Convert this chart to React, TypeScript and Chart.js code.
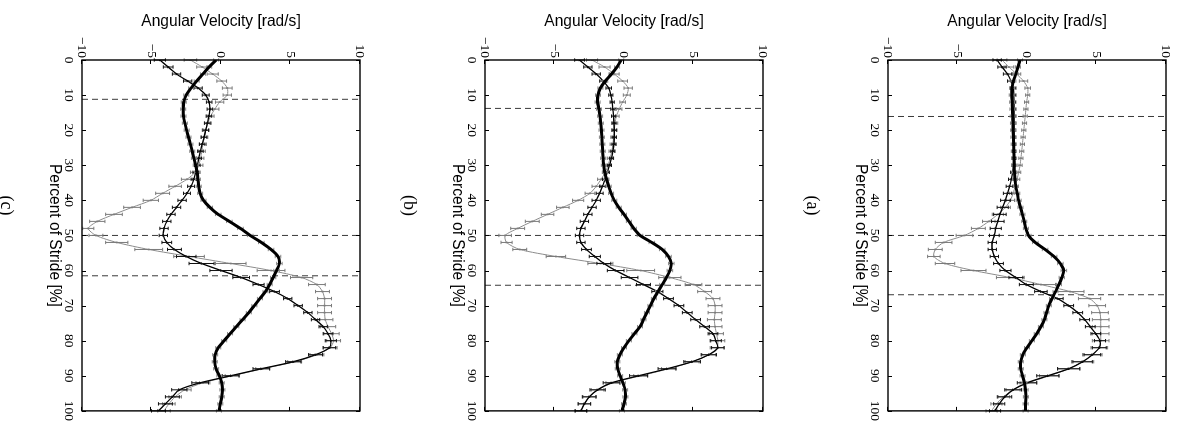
import React, { useEffect, useRef } from "react";
import { Chart, registerables } from "chart.js";

Chart.register(...registerables);

// Percent of stride (x of the original, un-rotated figure)
const percent = [
  0, 2, 4, 6, 8, 10, 12, 14, 16, 18, 20, 22, 24, 26, 28, 30, 32, 34, 36, 38,
  40, 42, 44, 46, 48, 50, 52, 54, 56, 58, 60, 62, 64, 66, 68, 70, 72, 74, 76, 78,
  80, 82, 84, 86, 88, 90, 92, 94, 96, 98, 100,
];
const strideTicks = [0, 10, 20, 30, 40, 50, 60, 70, 80, 90, 100];
const velocityTicks = [-10, -5, 0, 5, 10];

// ---------- Panel (a) ----------
const aThick = [
  -0.5, -0.65, -0.8, -0.98, -1.08, -1.1, -1.07, -1.05, -1.03, -1.01,
  -1.0, -0.98, -0.96, -0.95, -0.93, -0.92, -0.9, -0.86, -0.8, -0.7,
  -0.6, -0.47, -0.33, -0.2, -0.08, 0.1, 0.6, 1.3, 1.95, 2.4,
  2.65, 2.5, 2.3, 2.05, 1.8, 1.57, 1.4, 1.25, 1.0, 0.7,
  0.35, 0.0, -0.3, -0.45, -0.45, -0.32, -0.18, -0.1, -0.08, -0.1,
  -0.1,
];
const aThickErr = [
  0.18, 0.18, 0.18, 0.18, 0.18, 0.18, 0.18, 0.18, 0.18, 0.18,
  0.18, 0.18, 0.18, 0.18, 0.18, 0.18, 0.18, 0.18, 0.18, 0.18,
  0.18, 0.18, 0.18, 0.18, 0.18, 0.19, 0.2, 0.2, 0.2, 0.2,
  0.2, 0.19, 0.18, 0.18, 0.18, 0.18, 0.18, 0.18, 0.18, 0.18,
  0.18, 0.18, 0.18, 0.18, 0.18, 0.18, 0.18, 0.18, 0.18, 0.18,
  0.18,
];
const aThin = [
  -2.15, -1.8, -1.4, -1.15, -1.0, -0.95, -0.93, -0.92, -0.92, -0.92,
  -0.93, -0.93, -0.93, -0.94, -0.95, -0.97, -1.03, -1.13, -1.25, -1.4,
  -1.55, -1.75, -1.95, -2.1, -2.25, -2.35, -2.5, -2.5, -2.35, -2.05,
  -1.55, -0.8, -0.05, 1.0, 2.2, 3.0, 3.65, 4.15, 4.55, 4.95,
  5.25, 5.2, 4.7, 4.0, 3.0, 1.5, 0.0, -1.0, -1.6, -2.0,
  -2.3,
];
const aThinErr = [
  0.3, 0.3, 0.3, 0.25, 0.2, 0.15, 0.12, 0.12, 0.12, 0.12,
  0.12, 0.12, 0.12, 0.12, 0.12, 0.12, 0.15, 0.2, 0.25, 0.3,
  0.35, 0.4, 0.45, 0.45, 0.4, 0.35, 0.3, 0.3, 0.3, 0.35,
  0.4, 0.5, 0.5, 0.45, 0.4, 0.35, 0.35, 0.35, 0.35, 0.35,
  0.4, 0.5, 0.6, 0.7, 0.8, 0.8, 0.7, 0.6, 0.5, 0.4,
  0.4,
];
const aGray = [
  -1.8, -1.3, -0.75, -0.25, 0.05, 0.05, -0.03, -0.08, -0.13, -0.18,
  -0.23, -0.28, -0.33, -0.38, -0.44, -0.5, -0.6, -0.72, -0.85, -1.0,
  -1.2, -1.55, -2.1, -2.75, -3.5, -4.5, -6.0, -6.6, -6.7, -5.9,
  -3.85, -1.2, 1.0, 3.1, 4.5, 5.05, 5.25, 5.3, 5.3, 5.3,
  5.3, 5.2, 4.7, 4.0, 3.0, 1.6, 0.1, -1.0, -1.7, -2.2,
  -2.55,
];
const aGrayErr = [
  0.35, 0.35, 0.3, 0.3, 0.2, 0.15, 0.15, 0.15, 0.15, 0.15,
  0.15, 0.15, 0.15, 0.15, 0.15, 0.15, 0.15, 0.2, 0.2, 0.25,
  0.3, 0.35, 0.4, 0.45, 0.5, 0.6, 0.6, 0.5, 0.45, 0.7,
  0.9, 1.0, 1.05, 1.0, 0.8, 0.6, 0.6, 0.6, 0.6, 0.6,
  0.6, 0.6, 0.7, 0.8, 0.8, 0.7, 0.6, 0.5, 0.45, 0.4,
  0.4,
];
const aEvents = [16.1, 50, 66.9];

// ---------- Panel (b) ----------
const bThick = [
  -0.2, -0.5, -0.9, -1.35, -1.7, -1.87, -1.9, -1.8, -1.72, -1.67,
  -1.62, -1.59, -1.56, -1.53, -1.5, -1.45, -1.38, -1.26, -1.1, -0.93,
  -0.7, -0.38, 0.0, 0.35, 0.7, 1.15, 2.0, 2.75, 3.2, 3.4,
  3.3, 3.05, 2.75, 2.45, 2.15, 1.9, 1.65, 1.4, 1.15, 0.75,
  0.35, 0.0, -0.3, -0.48, -0.45, -0.28, -0.08, 0.08, 0.1, 0.0,
  -0.15,
];
const bThickErr = [
  0.18, 0.18, 0.18, 0.18, 0.18, 0.18, 0.18, 0.18, 0.18, 0.18,
  0.18, 0.18, 0.18, 0.18, 0.18, 0.18, 0.18, 0.18, 0.18, 0.18,
  0.18, 0.18, 0.18, 0.18, 0.19, 0.2, 0.2, 0.2, 0.2, 0.2,
  0.2, 0.19, 0.18, 0.18, 0.18, 0.18, 0.18, 0.18, 0.18, 0.18,
  0.18, 0.18, 0.18, 0.18, 0.18, 0.18, 0.18, 0.18, 0.18, 0.18,
  0.18,
];
const bThin = [
  -3.2, -2.6, -2.0, -1.5, -1.1, -0.95, -0.85, -0.8, -0.75, -0.72,
  -0.7, -0.7, -0.72, -0.8, -0.9, -1.05, -1.2, -1.35, -1.55, -1.75,
  -2.0, -2.3, -2.6, -2.85, -3.1, -3.2, -3.1, -2.7, -2.1, -1.45,
  -0.6, 0.4, 1.4, 2.4, 3.2, 3.95, 4.55, 5.15, 5.8, 6.4,
  6.6, 6.75, 6.1, 4.9, 3.1, 1.05, -0.9, -1.9, -2.5, -2.85,
  -3.1,
];
const bThinErr = [
  0.35, 0.3, 0.3, 0.25, 0.2, 0.15, 0.15, 0.15, 0.15, 0.15,
  0.15, 0.15, 0.15, 0.15, 0.15, 0.15, 0.15, 0.2, 0.2, 0.25,
  0.3, 0.3, 0.3, 0.3, 0.3, 0.3, 0.3, 0.35, 0.4, 0.5,
  0.6, 0.6, 0.5, 0.4, 0.35, 0.35, 0.35, 0.35, 0.35, 0.35,
  0.4, 0.45, 0.55, 0.6, 0.65, 0.65, 0.6, 0.55, 0.5, 0.45,
  0.4,
];
const bGray = [
  -2.3, -1.4, -0.7, -0.1, 0.3, 0.2, -0.1, -0.35, -0.55, -0.65,
  -0.7, -0.75, -0.8, -0.88, -1.0, -1.15, -1.35, -1.65, -2.0, -2.45,
  -3.3, -4.4, -5.5, -6.6, -7.65, -8.55, -8.45, -7.5, -4.9, -1.7,
  1.2, 3.3, 5.0, 5.8, 6.4, 6.55, 6.55, 6.5, 6.55, 6.65,
  6.75, 6.7, 6.1, 4.9, 3.2, 1.2, -0.8, -1.9, -2.5, -2.85,
  -3.1,
];
const bGrayErr = [
  0.4, 0.4, 0.35, 0.35, 0.3, 0.25, 0.2, 0.2, 0.2, 0.2,
  0.2, 0.2, 0.2, 0.2, 0.2, 0.2, 0.2, 0.25, 0.3, 0.35,
  0.4, 0.45, 0.45, 0.5, 0.5, 0.45, 0.4, 0.5, 0.7, 0.9,
  1.0, 0.8, 0.6, 0.5, 0.5, 0.5, 0.5, 0.5, 0.5, 0.5,
  0.5, 0.5, 0.5, 0.5, 0.5, 0.5, 0.5, 0.45, 0.45, 0.45,
  0.45,
];
const bEvents = [13.8, 50, 64.2];

// ---------- Panel (c) ----------
const cThick = [
  -0.35, -0.85, -1.3, -1.75, -2.15, -2.5, -2.68, -2.72, -2.7, -2.6,
  -2.47, -2.34, -2.2, -2.07, -1.95, -1.82, -1.72, -1.66, -1.6, -1.5,
  -1.26, -0.8, -0.2, 0.6, 1.4, 2.1, 2.9, 3.6, 4.1, 4.2,
  4.0, 3.75, 3.5, 3.2, 2.8, 2.4, 2.0, 1.55, 1.1, 0.65,
  0.23, -0.2, -0.42, -0.45, -0.35, -0.12, 0.05, 0.1, 0.05, -0.05,
  -0.15,
];
const cThickErr = [
  0.18, 0.18, 0.18, 0.18, 0.18, 0.18, 0.18, 0.18, 0.18, 0.18,
  0.18, 0.18, 0.18, 0.18, 0.18, 0.18, 0.18, 0.18, 0.18, 0.18,
  0.18, 0.19, 0.2, 0.2, 0.2, 0.2, 0.2, 0.2, 0.2, 0.2,
  0.2, 0.19, 0.18, 0.18, 0.18, 0.18, 0.18, 0.18, 0.18, 0.18,
  0.18, 0.18, 0.18, 0.18, 0.18, 0.18, 0.18, 0.18, 0.18, 0.18,
  0.18,
];
const cThin = [
  -4.4, -3.8, -3.2, -2.4, -1.65, -1.1, -0.85, -0.8, -0.87, -0.98,
  -1.1, -1.22, -1.36, -1.48, -1.6, -1.7, -1.82, -1.95, -2.15, -2.45,
  -2.8, -3.2, -3.6, -3.9, -4.1, -4.15, -3.9, -3.35, -2.5, -1.4,
  0.0, 1.45, 2.7, 3.85, 4.8, 5.55, 6.25, 6.8, 7.35, 7.7,
  7.9, 7.8, 6.8, 5.2, 2.9, 0.7, -1.5, -3.0, -3.5, -4.0,
  -4.5,
];
const cThinErr = [
  0.4, 0.35, 0.3, 0.3, 0.3, 0.25, 0.2, 0.2, 0.2, 0.2,
  0.2, 0.2, 0.2, 0.2, 0.2, 0.2, 0.2, 0.2, 0.25, 0.25,
  0.3, 0.3, 0.3, 0.3, 0.3, 0.3, 0.35, 0.5, 0.7, 0.9,
  0.8, 0.6, 0.4, 0.35, 0.3, 0.3, 0.3, 0.3, 0.3, 0.35,
  0.4, 0.45, 0.5, 0.55, 0.6, 0.6, 0.6, 0.55, 0.5, 0.5,
  0.5,
];
const cGray = [
  -2.2, -1.35, -0.6, 0.05, 0.45, 0.45, -0.1, -0.45, -0.75, -0.95,
  -1.1, -1.2, -1.3, -1.38, -1.48, -1.6, -1.85, -2.45, -3.3, -4.2,
  -5.05, -6.4, -7.7, -8.9, -9.55, -9.0, -7.5, -5.2, -2.3, 0.7,
  3.6, 5.8, 6.9, 7.3, 7.45, 7.45, 7.45, 7.5, 7.7, 7.95,
  8.1, 7.85, 6.9, 5.3, 3.0, 0.8, -1.3, -2.6, -3.3, -3.75,
  -4.1,
];
const cGrayErr = [
  0.45, 0.4, 0.4, 0.35, 0.35, 0.3, 0.3, 0.3, 0.25, 0.25,
  0.25, 0.25, 0.25, 0.25, 0.25, 0.3, 0.35, 0.4, 0.45, 0.5,
  0.55, 0.6, 0.6, 0.55, 0.4, 0.5, 0.8, 1.0, 1.1, 1.1,
  1.0, 0.8, 0.6, 0.5, 0.5, 0.5, 0.5, 0.55, 0.55, 0.55,
  0.5, 0.5, 0.5, 0.5, 0.5, 0.5, 0.5, 0.45, 0.45, 0.45,
  0.45,
];
const cEvents = [11.2, 50, 61.5];

const captions = ["(a)", "(b)", "(c)"];
const strideTitle = "Percent of Stride [%]";
const velocityTitle = "Angular Velocity [rad/s]";

type PanelData = {
  caption: string;
  thick: number[];
  thickErr: number[];
  thin: number[];
  thinErr: number[];
  gray: number[];
  grayErr: number[];
  events: number[];
};

const panels: PanelData[] = [
  { caption: captions[0], thick: aThick, thickErr: aThickErr, thin: aThin, thinErr: aThinErr, gray: aGray, grayErr: aGrayErr, events: aEvents },
  { caption: captions[1], thick: bThick, thickErr: bThickErr, thin: bThin, thinErr: bThinErr, gray: bGray, grayErr: bGrayErr, events: bEvents },
  { caption: captions[2], thick: cThick, thickErr: cThickErr, thin: cThin, thinErr: cThinErr, gray: cGray, grayErr: cGrayErr, events: cEvents },
];

const SERIF = '"Liberation Serif", "Times New Roman", serif';
const SANS = '"Liberation Sans", Arial, sans-serif';

const CANVAS_W = 426;
const CANVAS_H = 376;
const PANEL_STEP = 403;

function drawErrors(chart: any, ds: any) {
  const xs = chart.scales.x;
  const ys = chart.scales.y;
  const ctx = chart.ctx;
  const cap = 1.7;
  ctx.save();
  ctx.strokeStyle = ds.errorColor;
  ctx.lineWidth = 1;
  ds.data.forEach((pt: any, i: number) => {
    const e = ds.errors[i];
    const px = xs.getPixelForValue(pt.x);
    const y1 = ys.getPixelForValue(pt.y - e);
    const y2 = ys.getPixelForValue(pt.y + e);
    ctx.beginPath();
    ctx.moveTo(px, y1);
    ctx.lineTo(px, y2);
    ctx.moveTo(px - cap, y1);
    ctx.lineTo(px + cap, y1);
    ctx.moveTo(px - cap, y2);
    ctx.lineTo(px + cap, y2);
    ctx.stroke();
  });
  ctx.restore();
}

const errorBarPlugin = {
  id: "errorBars",
  beforeDatasetDraw(chart: any, args: any) {
    const ds = chart.data.datasets[args.index];
    if (ds && ds.errors && ds.errorsBehind) drawErrors(chart, ds);
  },
  afterDatasetDraw(chart: any, args: any) {
    const ds = chart.data.datasets[args.index];
    if (ds && ds.errors && !ds.errorsBehind) drawErrors(chart, ds);
  },
};

const framePlugin = {
  id: "frameTicks",
  afterDraw(chart: any) {
    const { ctx, chartArea: a } = chart;
    const xs = chart.scales.x;
    const ys = chart.scales.y;
    const tl = 4;
    ctx.save();
    ctx.strokeStyle = "#000";
    ctx.lineWidth = 1;
    ctx.beginPath();
    strideTicks.forEach((t) => {
      const px = Math.round(xs.getPixelForValue(t)) + 0.5;
      ctx.moveTo(px, a.bottom);
      ctx.lineTo(px, a.bottom - tl);
      ctx.moveTo(px, a.top);
      ctx.lineTo(px, a.top + tl);
    });
    velocityTicks.forEach((t) => {
      const py = Math.round(ys.getPixelForValue(t)) + 0.5;
      ctx.moveTo(a.left, py);
      ctx.lineTo(a.left + tl, py);
      ctx.moveTo(a.right, py);
      ctx.lineTo(a.right - tl, py);
    });
    ctx.stroke();
    ctx.lineWidth = 1.4;
    ctx.strokeRect(a.left, a.top, a.right - a.left, a.bottom - a.top);
    ctx.restore();
  },
};

function buildConfig(p: PanelData): any {
  const pts = (vals: number[]) => percent.map((x, i) => ({ x, y: vals[i] }));
  const eventSets = p.events.map((e) => ({
    data: [
      { x: e, y: -10 },
      { x: e, y: 10 },
    ],
    borderColor: "#3a3a3a",
    borderWidth: 1,
    borderDash: [6, 4],
    pointRadius: 0,
    order: 5,
  }));
  return {
    type: "line",
    data: {
      datasets: [
        ...eventSets,
        {
          data: pts(p.gray),
          borderColor: "#8c8c8c",
          borderWidth: 1,
          tension: 0.25,
          pointRadius: 1.3,
          pointStyle: "rect",
          pointBackgroundColor: "#8c8c8c",
          pointBorderWidth: 0,
          errors: p.grayErr,
          errorColor: "#7a7a7a",
          order: 3,
        },
        {
          data: pts(p.thin),
          borderColor: "#000",
          borderWidth: 1.3,
          tension: 0.25,
          pointRadius: 1.7,
          pointStyle: "triangle",
          pointBackgroundColor: "#000",
          pointBorderWidth: 0,
          errors: p.thinErr,
          errorColor: "#111",
          order: 2,
        },
        {
          data: pts(p.thick),
          borderColor: "#000",
          borderWidth: 3,
          tension: 0.25,
          pointRadius: 0,
          errors: p.thickErr,
          errorsBehind: true,
          errorColor: "#8a8a8a",
          order: 1,
        },
      ],
    },
    options: {
      animation: false,
      responsive: false,
      devicePixelRatio: 1,
      events: [],
      layout: { autoPadding: false, padding: { top: 11, right: 15, left: 0, bottom: 0 } },
      plugins: {
        legend: { display: false },
        tooltip: { enabled: false },
        title: {
          display: true,
          text: p.caption,
          position: "bottom",
          color: "#000",
          padding: 0,
          font: { family: SERIF, size: 18, weight: "normal", lineHeight: 1.2 },
        },
      },
      scales: {
        x: {
          type: "linear",
          min: 0,
          max: 100,
          afterBuildTicks: (s: any) => {
            s.ticks = strideTicks.map((v) => ({ value: v }));
          },
          afterFit: (s: any) => {
            s.height = 65.4;
          },
          grid: { display: false, drawTicks: false, tickLength: 0 },
          border: { display: false },
          ticks: {
            padding: 5,
            autoSkip: false,
            maxRotation: 0,
            color: "#000",
            font: { family: SERIF, size: 13.5 },
          },
          title: {
            display: true,
            text: strideTitle,
            color: "#000",
            font: { family: SANS, size: 15.6, lineHeight: 1.2 },
            padding: { top: 0, bottom: 28.5 },
          },
        },
        y: {
          type: "linear",
          min: -10,
          max: 10,
          afterBuildTicks: (s: any) => {
            s.ticks = velocityTicks.map((v) => ({ value: v }));
          },
          afterFit: (s: any) => {
            s.width = 60;
          },
          grid: { display: false, drawTicks: false, tickLength: 0 },
          border: { display: false },
          ticks: {
            padding: 2,
            color: "#000",
            font: { family: SERIF, size: 13.5 },
            callback: (v: any) => (v < 0 ? "\u2212" + Math.abs(v) : String(v)),
          },
          title: {
            display: true,
            text: velocityTitle,
            color: "#000",
            font: { family: SANS, size: 15.6, lineHeight: 1.2 },
            padding: { top: 12.6, bottom: 0 },
          },
        },
      },
    },
    plugins: [errorBarPlugin, framePlugin],
  };
}

function PanelChart({ data, top }: { data: PanelData; top: number }) {
  const ref = useRef<HTMLCanvasElement | null>(null);
  useEffect(() => {
    if (!ref.current) return;
    const chart = new Chart(ref.current, buildConfig(data));
    return () => chart.destroy();
  }, [data]);
  return (
    <div style={{ position: "absolute", left: 0, top, width: CANVAS_W, height: CANVAS_H }}>
      <canvas ref={ref} width={CANVAS_W} height={CANVAS_H} style={{ display: "block", width: CANVAS_W, height: CANVAS_H }} />
    </div>
  );
}

export default function App() {
  return (
    <div
      style={{
        position: "fixed",
        left: 0,
        top: 0,
        width: CANVAS_W,
        height: PANEL_STEP * 2 + CANVAS_H,
        transformOrigin: "0 0",
        transform: "translate(1177px, 0px) rotate(90deg)",
        background: "#fff",
      }}
    >
      {panels.map((p, i) => (
        <PanelChart key={p.caption} data={p} top={i * PANEL_STEP} />
      ))}
    </div>
  );
}
